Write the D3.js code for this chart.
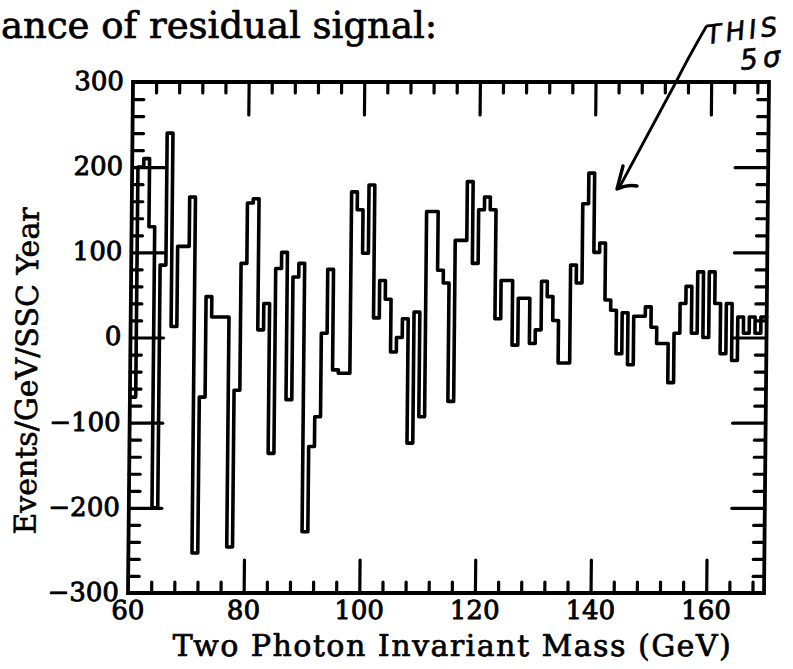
<!DOCTYPE html>
<html>
<head>
<meta charset="utf-8">
<script src="https://cdn.jsdelivr.net/npm/d3@7"></script>
<style>
  html, body { margin: 0; padding: 0; background: #fff; }
  svg { display: block; }
</style>
</head>
<body>
<svg id="chart" width="793" height="669"></svg>
<script>
// Residual two-photon signal, events per GeV per SSC year, 1 GeV bins from 60 to 170 GeV
const massLow = 60;
const massHigh = 170;
const residual = [
  -70, 200, 210, 130, -200, 85, 240, 13, 107, 107,      // 60-69
  165, -253, -70, 48, 24, 24, 24, -246, -62, 87,         // 70-79
  158, 163, 9, 40, -136, 81, 100, -73, 71, 87,           // 80-89
  -228, -128, -93, 5, 80, -38, -42, -42, 171, 150,       // 90-99
  99, 179, 23, 67, 45, -17, 0, 22, -124, 30,             // 100-109
  -93, 148, 148, 79, 64, -75, 114, 114, 183, 87,         // 110-119
  150, 165, 150, 22, 67, 67, -9, 46, 46, -7,             // 120-129
  9, 66, 48, 20, -30, -30, 85, 64, 157, 193,             // 130-139
  100, 111, 44, 32, -19, 29, -32, 25, 25, 36,            // 140-149
  12, -7, -7, -53, 5, 40, 60, 5, 77, 0,                  // 150-159
  77, 40, -19, 40, -27, 24, 5, 24, 5, 24                 // 160-169
];

const xTickValues = [60, 80, 100, 120, 140, 160];
const yTickValues = [-300, -200, -100, 0, 100, 200, 300];
const xMinorStep = 4;
const yMinorStep = 20;

const titleText = "ance of residual signal:";
const xTitle = "Two Photon Invariant Mass (GeV)";
const yTitle = "Events/GeV/SSC Year";

const svg = d3.select("#chart");
const frame = { left: 128, right: 764, top: 82, bottom: 593 };

const x = d3.scaleLinear().domain([massLow, massHigh]).range([frame.left, frame.right]);
const y = d3.scaleLinear().domain([-300, 300]).range([frame.bottom, frame.top]);

// the printed page leans a little: everything drifts right towards the top
const lean = 5 / 511;
const leanDeg = -Math.atan(lean) * 180 / Math.PI;
const plot = svg.append("g")
  .attr("transform", `translate(${lean * frame.bottom},0) skewX(${leanDeg})`);

const majorLen = 33, minorLen = 11;
const serif = "'DejaVu Serif', 'Liberation Serif', serif";

const xMinor = d3.range(massLow, massHigh + 0.001, xMinorStep).filter(v => !xTickValues.includes(v) && v > massLow && v < massHigh);
const yMinor = d3.range(-300, 300.001, yMinorStep).filter(v => !yTickValues.includes(v));

function styleAxis(g) {
  g.select(".domain").remove();
  g.selectAll(".tick line").attr("stroke", "#000").attr("stroke-width", 3.2).attr("stroke-linecap", "round");
}

function addTicks(axisFn, scale, pos, majors, minors) {
  const isX = axisFn === d3.axisBottom || axisFn === d3.axisTop;
  const tr = isX ? `translate(0,${pos})` : `translate(${pos},0)`;
  plot.append("g").attr("transform", tr)
    .call(axisFn(scale).tickValues(majors).tickSize(-majorLen).tickFormat(""))
    .call(styleAxis);
  plot.append("g").attr("transform", tr)
    .call(axisFn(scale).tickValues(minors).tickSize(-minorLen).tickFormat(""))
    .call(styleAxis);
}

const xMajorInner = xTickValues.filter(v => v > massLow && v < massHigh);
const yMajorInner = yTickValues.filter(v => v > -300 && v < 300);
addTicks(d3.axisBottom, x, frame.bottom, xMajorInner, xMinor);
addTicks(d3.axisTop, x, frame.top, xMajorInner, xMinor);
addTicks(d3.axisLeft, y, frame.left, yMajorInner, yMinor);
addTicks(d3.axisRight, y, frame.right, yMajorInner, yMinor);

// frame
plot.append("rect")
  .attr("x", frame.left).attr("y", frame.top)
  .attr("width", frame.right - frame.left).attr("height", frame.bottom - frame.top)
  .attr("fill", "none").attr("stroke", "#000").attr("stroke-width", 3.8);

// histogram outline
const steps = residual.map((v, i) => [massLow + i, v]);
steps.push([massHigh, residual[residual.length - 1]]);
plot.append("path")
  .datum(steps)
  .attr("d", d3.line().x(d => x(d[0])).y(d => y(d[1])).curve(d3.curveStepAfter))
  .attr("fill", "none")
  .attr("stroke", "#000")
  .attr("stroke-width", 3.6)
  .attr("stroke-linejoin", "round")
  .attr("stroke-linecap", "round");

// printed text is a little heavy: thicken the regular face slightly
function inked(sel, w) {
  return sel.attr("fill", "#000").attr("stroke", "#000").attr("stroke-width", w).attr("stroke-linejoin", "round");
}

// tick labels
const fmt = v => (v < 0 ? "\u2212" + Math.abs(v) : String(v));
plot.append("g").selectAll("text")
  .data(xTickValues).join("text")
  .attr("x", d => x(d)).attr("y", frame.bottom + 26)
  .attr("text-anchor", "middle")
  .attr("font-family", serif).attr("font-size", 26)
  .call(inked, 0.9)
  .text(fmt);
plot.append("g").selectAll("text")
  .data(yTickValues).join("text")
  .attr("x", frame.left - 9).attr("y", d => y(d) + 8)
  .attr("text-anchor", "end")
  .attr("font-family", serif).attr("font-size", 26)
  .call(inked, 0.9)
  .text(fmt);

// axis titles
plot.append("text")
  .attr("x", 453).attr("y", 656)
  .attr("text-anchor", "middle")
  .attr("font-family", serif).attr("font-size", 30).attr("letter-spacing", 1.5)
  .call(inked, 0.7)
  .text(xTitle);
plot.append("text")
  .attr("transform", `translate(35,371) rotate(-90)`)
  .attr("text-anchor", "middle")
  .attr("font-family", serif).attr("font-size", 30)
  .call(inked, 0.6)
  .text(yTitle);

// page heading (line continues from the previous text)
svg.append("text")
  .attr("x", 1).attr("y", 38)
  .attr("font-family", serif).attr("font-size", 37)
  .call(inked, 0.7)
  .text(titleText);

// handwritten note with arrow
const hand = "'DejaVu Sans', sans-serif";
svg.append("text")
  .attr("transform", "translate(707,44) rotate(-7)")
  .attr("font-family", hand).attr("font-style", "italic")
  .attr("font-size", 26).attr("letter-spacing", 4)
  .call(inked, 0.6)
  .text("THIS");
svg.append("text")
  .attr("transform", "translate(741,70) rotate(-6)")
  .attr("font-family", hand).attr("font-style", "italic")
  .attr("font-size", 28).attr("letter-spacing", 5)
  .call(inked, 0.6)
  .text("5\u03c3");
svg.append("path")
  .attr("d", "M706,27 Q688,58 676,82 L619,188")
  .attr("fill", "none").attr("stroke", "#000").attr("stroke-width", 2.8).attr("stroke-linecap", "round");
svg.append("path")
  .attr("d", "M623,166 L617,189 Q628,184 637,186")
  .attr("fill", "none").attr("stroke", "#000").attr("stroke-width", 3.4)
  .attr("stroke-linecap", "round").attr("stroke-linejoin", "round");
</script>
</body>
</html>
